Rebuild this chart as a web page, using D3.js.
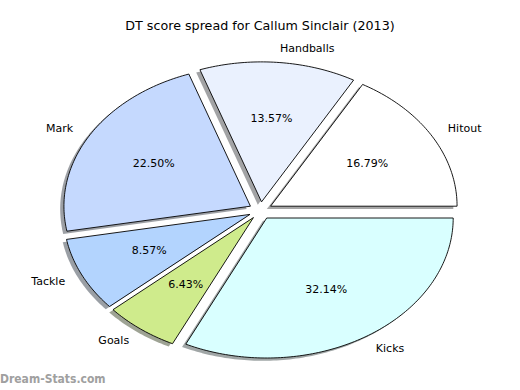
<!DOCTYPE html>
<html>
<head>
<meta charset="utf-8">
<script src="https://cdn.jsdelivr.net/npm/d3@7"></script>
<style>
  html, body { margin: 0; padding: 0; background: #fff; }
  svg { display: block; font-family: "DejaVu Sans", sans-serif; }
</style>
</head>
<body>
<div id="chart"></div>
<script>
// Data
const categories = ["Hitout", "Handballs", "Mark", "Tackle", "Goals", "Kicks"];
const scores = [47, 38, 63, 24, 18, 90];
const sliceColors = ["#ffffff", "#eaf1fe", "#c5d9fe", "#b3d4fe", "#cfeb8c", "#d9ffff"];
const chartTitle = "DT score spread for Callum Sinclair (2013)";

// Layout
const width = 520;
const height = 390;
const cx = 260.5, cy = 210.6, rx = 186.5, ry = 140;
const explode = 0.0625;
const shadowShift = { x: -0.02, y: -0.02 };

const svg = d3.select("#chart")
  .append("svg")
  .attr("width", width)
  .attr("height", height);

// scales in "unit circle" space, like the axes of the original
const x = d3.scaleLinear().domain([-1, 1]).range([cx - rx, cx + rx]);
const y = d3.scaleLinear().domain([-1, 1]).range([cy + ry, cy - ry]);

const total = d3.sum(scores);
// start at 3 o'clock, go counter-clockwise (angles in radians, math convention)
const pie = d3.pie().sort(null).startAngle(0).endAngle(2 * Math.PI);
const slices = pie(scores).map((s, i) => {
  const mid = (s.startAngle + s.endAngle) / 2;
  return {
    name: categories[i],
    value: s.value,
    color: sliceColors[i],
    a0: s.startAngle,
    a1: s.endAngle,
    mid: mid,
    ox: explode * Math.cos(mid),
    oy: explode * Math.sin(mid)
  };
});

function wedgePoints(d, dx, dy) {
  const pts = [[d.ox + dx, d.oy + dy]];
  const n = Math.max(2, Math.ceil((d.a1 - d.a0) / (Math.PI / 180)));
  for (let k = 0; k <= n; k++) {
    const a = d.a0 + (d.a1 - d.a0) * k / n;
    pts.push([d.ox + dx + Math.cos(a), d.oy + dy + Math.sin(a)]);
  }
  return pts;
}

const line = d3.line()
  .x(p => x(p[0]))
  .y(p => y(p[1]));

// shadows first, all under the wedges
svg.append("g")
  .selectAll("path")
  .data(slices)
  .enter()
  .append("path")
  .attr("d", d => line(wedgePoints(d, shadowShift.x, shadowShift.y)) + "Z")
  .attr("fill", d => {
    const c = d3.rgb(d.color);
    return d3.rgb(c.r * 0.3, c.g * 0.3, c.b * 0.3);
  })
  .attr("fill-opacity", 0.5)
  .attr("stroke", "none");

svg.append("g")
  .selectAll("path")
  .data(slices)
  .enter()
  .append("path")
  .attr("d", d => line(wedgePoints(d, 0, 0)) + "Z")
  .attr("fill", d => d.color)
  .attr("stroke", "#000")
  .attr("stroke-width", 0.9)
  .attr("stroke-linejoin", "miter");

// category labels
svg.append("g")
  .selectAll("text")
  .data(slices)
  .enter()
  .append("text")
  .attr("x", d => x(d.ox + 1.1 * Math.cos(d.mid)))
  .attr("y", d => y(d.oy + 1.1 * Math.sin(d.mid)))
  .attr("text-anchor", d => Math.cos(d.mid) > 0 ? "start" : "end")
  .attr("dominant-baseline", "central")
  .style("font-size", "11px")
  .attr("fill", "#000")
  .text(d => d.name);

// percentage labels
svg.append("g")
  .selectAll("text")
  .data(slices)
  .enter()
  .append("text")
  .attr("x", d => x(d.ox + 0.6 * Math.cos(d.mid)))
  .attr("y", d => y(d.oy + 0.6 * Math.sin(d.mid)))
  .attr("text-anchor", "middle")
  .attr("dominant-baseline", "central")
  .style("font-size", "11px")
  .attr("fill", "#000")
  .text(d => (d.value / total * 100).toFixed(2) + "%");

svg.append("text")
  .attr("x", width / 2)
  .attr("y", 25)
  .attr("text-anchor", "middle")
  .attr("dominant-baseline", "central")
  .style("font-size", "12.7px")
  .attr("fill", "#000")
  .text(chartTitle);

// watermark
svg.append("text")
  .attr("x", 0)
  .attr("y", 383)
  .style("font-family", "'DejaVu Sans Condensed', 'DejaVu Sans', sans-serif")
  .style("font-size", "12px")
  .style("font-weight", "bold")
  .attr("fill", "#a0a0a0")
  .text("Dream-Stats.com");
</script>
</body>
</html>
